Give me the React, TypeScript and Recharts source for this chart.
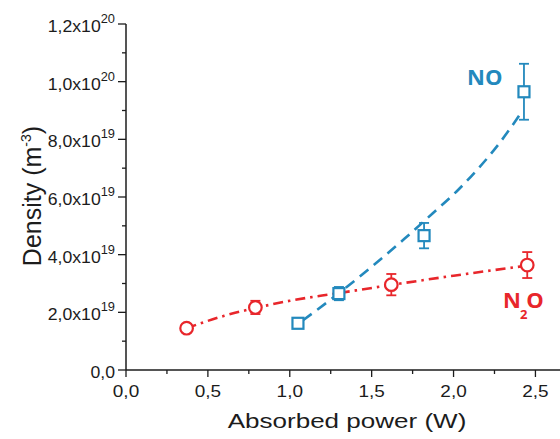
import React from 'react';
import {
  ComposedChart,
  Scatter,
  Line,
  XAxis,
  YAxis,
  ErrorBar,
  Customized,
} from 'recharts';

// density values in units of 1e19 m^-3
const n2oPower = [0.37, 0.79, 1.62, 2.45];
const n2oDensity = [1.45, 2.17, 2.96, 3.64];
const n2oError = [0, 0.23, 0.37, 0.45];

const noPower = [1.05, 1.3, 1.82, 2.43];
const noDensity = [1.62, 2.65, 4.66, 9.65];
const noError = [0, 0.23, 0.44, 0.97];

// fitted curves
const n2oFitPower = [0.37, 0.6, 0.79, 1.0, 1.29, 1.62, 2.0, 2.45];
const n2oFitDensity = [1.45, 1.88, 2.15, 2.4, 2.66, 2.95, 3.27, 3.62];

const noFitPower = [1.08, 1.29, 1.5, 1.7, 1.87, 2.02, 2.14, 2.26, 2.42];
const noFitDensity = [1.72, 2.62, 3.58, 4.55, 5.42, 6.2, 6.92, 7.72, 8.98];

const xMajor = [0, 0.5, 1, 1.5, 2, 2.5];
const xMinor = [0.25, 0.75, 1.25, 1.75, 2.25];
const xTickLabels = ['0,0', '0,5', '1,0', '1,5', '2,0', '2,5'];

const yMajor = [0, 2, 4, 6, 8, 10, 12];
const yMinor = [1, 3, 5, 7, 9, 11];
const yTickMantissa = ['0,0', '2,0', '4,0', '6,0', '8,0', '1,0', '1,2'];
const yTickExponent = ['', '19', '19', '19', '19', '20', '20'];

const BLUE = '#2389bd';
const RED = '#e8262b';
const INK = '#1c1c1c';
const FONT = '"Liberation Sans", Arial, sans-serif';

const n2oPoints = n2oPower.map((x, i) => ({ x, y: n2oDensity[i], err: n2oError[i] }));
const noPoints = noPower.map((x, i) => ({ x, y: noDensity[i], err: noError[i] }));
const n2oFit = n2oFitPower.map((x, i) => ({ x, y: n2oFitDensity[i] }));
const noFit = noFitPower.map((x, i) => ({ x, y: noFitDensity[i] }));

const XTick = (props: any) => {
  const { x, y, payload } = props;
  const i = xMajor.indexOf(payload.value);
  if (i < 0) {
    return <line x1={x} x2={x} y1={y} y2={y + 4} stroke={INK} strokeWidth={1.3} />;
  }
  return (
    <g>
      <line x1={x} x2={x} y1={y} y2={y + 7} stroke={INK} strokeWidth={1.3} />
      <text
        transform={`translate(${x},${y + 27}) scale(1.15,1)`}
        textAnchor="middle"
        fontSize={16.5}
        fontFamily={FONT}
        fill={INK}
      >
        {xTickLabels[i]}
      </text>
    </g>
  );
};

const YTick = (props: any) => {
  const { x, y, payload } = props;
  const i = yMajor.indexOf(payload.value);
  if (i < 0) {
    return <line x1={x - 4} x2={x} y1={y} y2={y} stroke={INK} strokeWidth={1.3} />;
  }
  const exp = yTickExponent[i];
  return (
    <g>
      <line x1={x - 8} x2={x} y1={y} y2={y} stroke={INK} strokeWidth={1.3} />
      <text
        transform={`translate(${x - 11},${y + 8}) scale(1.07,1)`}
        textAnchor="end"
        fontSize={16.5}
        fontFamily={FONT}
        fill={INK}
      >
        {yTickMantissa[i]}
        {exp ? 'x10' : ''}
        {exp ? (
          <tspan dy={-9} fontSize={12}>
            {exp}
          </tspan>
        ) : null}
      </text>
    </g>
  );
};

const SquareMark = (props: any) => (
  <rect
    x={props.cx - 5.5}
    y={props.cy - 5.5}
    width={11}
    height={11}
    fill="#fff"
    stroke={BLUE}
    strokeWidth={2.2}
  />
);

const CircleMark = (props: any) => (
  <circle cx={props.cx} cy={props.cy} r={6.3} fill="#fff" stroke={RED} strokeWidth={2.2} />
);

const Annotations = () => (
  <g>
    <text
      transform="translate(41,196) rotate(-90)"
      textAnchor="middle"
      fontSize={25}
      fontFamily={FONT}
      fill={INK}
    >
      Density (m
      <tspan dy={-10} fontSize={14}>
        -3
      </tspan>
      <tspan dy={10}>)</tspan>
    </text>
    <text
      transform="translate(347,428) scale(1.24,1)"
      textAnchor="middle"
      fontSize={21}
      fontFamily={FONT}
      fill={INK}
    >
      Absorbed power (W)
    </text>
    <text x={467} y={85} fontSize={22} fontWeight="bold" fontFamily='"Open Sans", sans-serif' fill={BLUE}>
      NO
    </text>
    <text x={503} y={308} fontSize={22} fontWeight="bold" fontFamily='"Open Sans", sans-serif' fill={RED}>
      N
      <tspan dx={-1} dy={11} fontSize={13}>
        2
      </tspan>
      <tspan dx={-1} dy={-11}>O</tspan>
    </text>
  </g>
);

export default function App() {
  return (
    <div style={{ position: 'absolute', left: 0, top: 0, width: 560, height: 439, background: '#fff' }}>
      <ComposedChart width={560} height={439} margin={{ top: 24, right: 0, left: 0, bottom: 0 }}>
        <XAxis
          type="number"
          dataKey="x"
          domain={[0, 2.65]}
          ticks={[...xMajor, ...xMinor].sort((a, b) => a - b)}
          interval={0}
          height={69}
          tickSize={0}
          tickMargin={0}
          tickLine={false}
          tick={<XTick />}
          axisLine={{ stroke: INK, strokeWidth: 1.5 }}
          allowDataOverflow
        />
        <YAxis
          type="number"
          dataKey="y"
          domain={[0, 12]}
          ticks={[...yMajor, ...yMinor].sort((a, b) => a - b)}
          interval={0}
          width={126}
          tickSize={0}
          tickMargin={0}
          tickLine={false}
          tick={<YTick />}
          axisLine={{ stroke: INK, strokeWidth: 1.5 }}
          allowDataOverflow
        />
        <Scatter data={noPoints} dataKey="y" shape={<SquareMark />} isAnimationActive={false}>
          <ErrorBar dataKey="err" direction="y" width={5} stroke={BLUE} strokeWidth={1.8} />
        </Scatter>
        <Scatter data={n2oPoints} dataKey="y" shape={<CircleMark />} isAnimationActive={false}>
          <ErrorBar dataKey="err" direction="y" width={5} stroke={RED} strokeWidth={1.8} />
        </Scatter>
        <Line
          data={noFit}
          dataKey="y"
          type="monotone"
          stroke={BLUE}
          strokeWidth={2.6}
          strokeDasharray="11 7"
          dot={false}
          activeDot={false}
          isAnimationActive={false}
        />
        <Line
          data={n2oFit}
          dataKey="y"
          type="monotone"
          stroke={RED}
          strokeWidth={2.6}
          strokeDasharray="10 5 2.5 5"
          dot={false}
          activeDot={false}
          isAnimationActive={false}
        />
        <Customized component={<Annotations />} />
      </ComposedChart>
    </div>
  );
}
